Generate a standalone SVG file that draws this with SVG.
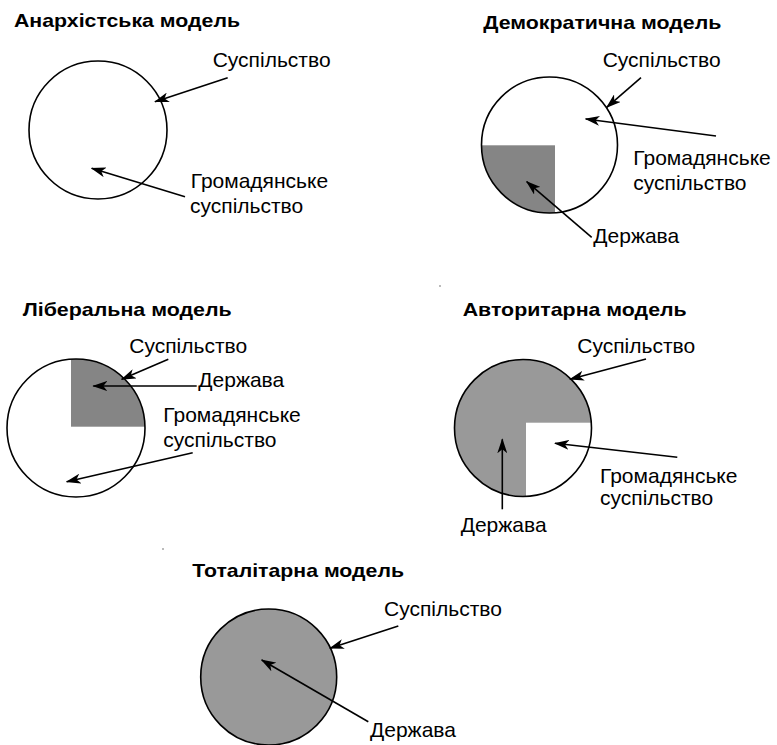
<svg xmlns="http://www.w3.org/2000/svg" width="777" height="745" viewBox="0 0 777 745">
<style>
.t{font-family:"Liberation Sans",Arial,sans-serif;font-size:19px;font-weight:bold;fill:#000}
.l{font-family:"Liberation Sans",Arial,sans-serif;font-size:21px;fill:#000}
.c{fill:none;stroke:#000;stroke-width:1.6}
.a{stroke:#000;stroke-width:1.6;fill:none;marker-end:url(#ah)}
.dk{fill:#858585}
.lt{fill:#999999}
</style>
<defs>
<marker id="ah" viewBox="0 0 15 10" refX="14" refY="5" markerWidth="15" markerHeight="10" markerUnits="userSpaceOnUse" orient="auto">
<path d="M0,0 L15,5 L0,10 L4,5 Z" fill="#000"/>
</marker>
<clipPath id="cp2"><circle cx="549.5" cy="145" r="68"/></clipPath>
<clipPath id="cp3"><circle cx="76" cy="428" r="69"/></clipPath>
<clipPath id="cp4"><circle cx="523" cy="428" r="68.5"/></clipPath>
</defs>
<rect width="777" height="745" fill="#fff"/>

<g id="anarchist">
<text class="t" x="14" y="27" textLength="226" lengthAdjust="spacingAndGlyphs">Анархістська модель</text>
<circle class="c" cx="98" cy="130" r="69"/>
<text class="l" x="212.7" y="66.7">Суспільство</text>
<text class="l" x="190.7" y="188">Громадянське</text>
<text class="l" x="190" y="213">суспільство</text>
</g>

<g id="democratic">
<text class="t" x="483.3" y="29.3" textLength="238" lengthAdjust="spacingAndGlyphs">Демократична модель</text>
<rect class="dk" x="480" y="145.3" width="75" height="70" clip-path="url(#cp2)"/>
<circle class="c" cx="549.5" cy="145" r="68"/>
<text class="l" x="602.7" y="66.7">Суспільство</text>
<text class="l" x="633.3" y="165">Громадянське</text>
<text class="l" x="633.3" y="190">суспільство</text>
<text class="l" x="593.3" y="243.3">Держава</text>
</g>

<g id="liberal">
<text class="t" x="22.7" y="316" textLength="209" lengthAdjust="spacingAndGlyphs">Ліберальна модель</text>
<rect class="dk" x="71" y="355" width="80" height="71.7" clip-path="url(#cp3)"/>
<circle class="c" cx="76" cy="428" r="69"/>
<text class="l" x="129.3" y="353.3">Суспільство</text>
<text class="l" x="198.3" y="386.7">Держава</text>
<text class="l" x="163.3" y="421.7">Громадянське</text>
<text class="l" x="163.3" y="446.7">суспільство</text>
</g>

<g id="authoritarian">
<text class="t" x="462.7" y="316" textLength="224" lengthAdjust="spacingAndGlyphs">Авторитарна модель</text>
<circle class="lt" cx="523" cy="428" r="68.5"/>
<rect x="526" y="422.7" width="70" height="80" fill="#fff" clip-path="url(#cp4)"/>
<circle class="c" cx="523" cy="428" r="68.5"/>
<text class="l" x="577.3" y="352.7">Суспільство</text>
<text class="l" x="600" y="482.5">Громадянське</text>
<text class="l" x="600" y="505">суспільство</text>
<text class="l" x="460.7" y="531.7">Держава</text>
</g>

<g id="totalitarian">
<text class="t" x="192.3" y="576.7" textLength="211.7" lengthAdjust="spacingAndGlyphs">Тоталітарна модель</text>
<circle class="lt" cx="268.7" cy="677" r="68"/>
<circle class="c" cx="268.7" cy="677" r="68"/>
<text class="l" x="384" y="616">Суспільство</text>
<text class="l" x="370" y="736.7">Держава</text>
</g>

<g id="connectors">
<line class="a" x1="227.7" y1="77.7" x2="155" y2="101.7"/>
<line class="a" x1="185" y1="196.7" x2="91.7" y2="168.3"/>
<line class="a" x1="641" y1="77.7" x2="606.7" y2="107.3"/>
<line class="a" x1="716" y1="136" x2="585.7" y2="119"/>
<line class="a" x1="591.7" y1="237.3" x2="526.7" y2="181.7"/>
<line class="a" x1="168.3" y1="359.3" x2="121.7" y2="379.3"/>
<line class="a" x1="196.7" y1="386" x2="93.3" y2="386"/>
<line class="a" x1="192.7" y1="452.7" x2="66.7" y2="481.7"/>
<line class="a" x1="646" y1="359" x2="570" y2="379.3"/>
<line class="a" x1="677.3" y1="457.3" x2="555" y2="443.3"/>
<line class="a" x1="502.3" y1="509.3" x2="502.3" y2="439.3"/>
<line class="a" x1="398.3" y1="626" x2="330" y2="648.3"/>
<line class="a" x1="368.3" y1="721.7" x2="261.7" y2="660"/>
</g>
<rect x="439" y="285" width="2" height="2" fill="#bbb"/>
<rect x="162" y="548" width="2" height="2" fill="#bbb"/>
</svg>
